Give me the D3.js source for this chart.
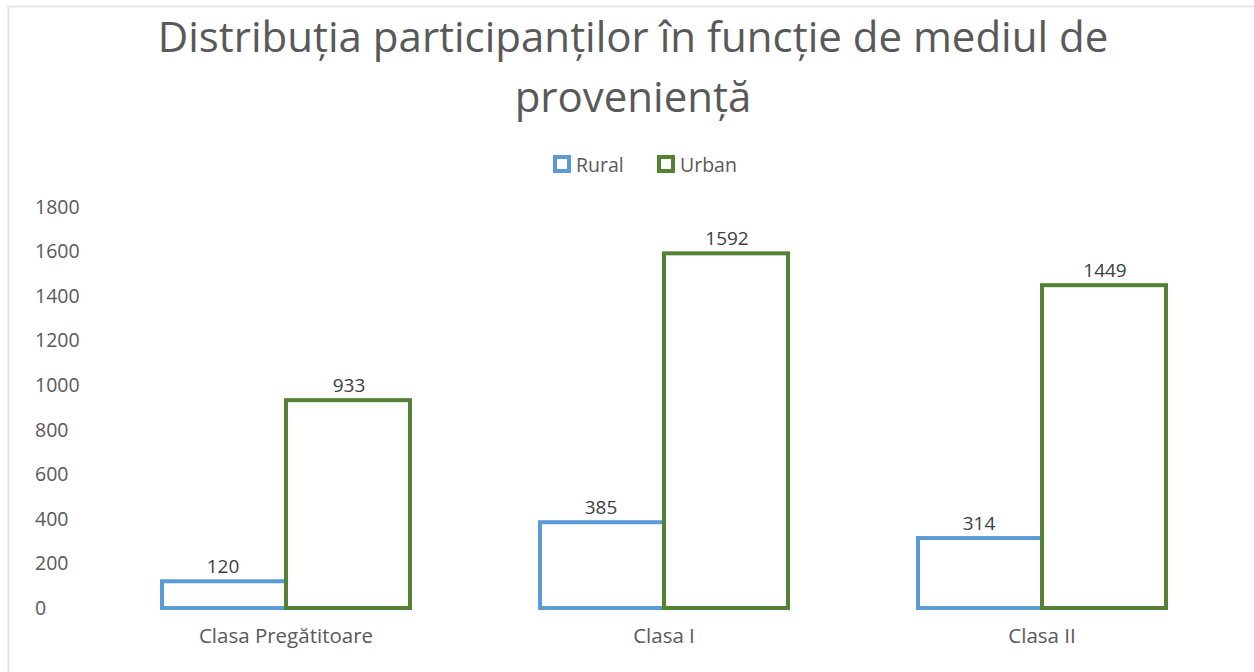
<!DOCTYPE html>
<html>
<head>
<meta charset="utf-8">
<script src="https://cdn.jsdelivr.net/npm/d3@7"></script>
<style>
  body { margin: 0; background: #fff; }
  text { font-family: "Open Sans", "Noto Sans", sans-serif; }
</style>
</head>
<body>
<svg width="1254" height="672"></svg>
<script>
const categories = ['Clasa Pregătitoare', 'Clasa I', 'Clasa II'];
const seriesNames = ['Rural', 'Urban'];
const rural = [120, 385, 314];
const urban = [933, 1592, 1449];
const yTicks = [0, 200, 400, 600, 800, 1000, 1200, 1400, 1600, 1800];
const titleLines = ['Distribuția participanților în funcție de mediul de', 'proveniență'];

const colors = {Rural: '#5b9bd5', Urban: '#548235'};

const svg = d3.select('svg');
const width = +svg.attr('width');
const height = +svg.attr('height');

// light frame like the Excel chart area
svg.append('path')
    .attr('d', `M8.5,${height} V6.5 H${width}`)
    .attr('fill', 'none')
    .attr('stroke', '#e4e4e4')
    .attr('stroke-width', 2);

const margin = {top: 207, left: 97, right: 23, bottom: 64};
const innerWidth = width - margin.left - margin.right;

const data = categories.map((c, i) => ({cat: c, Rural: rural[i], Urban: urban[i]}));

const xScale = d3.scaleBand()
    .domain(categories)
    .range([margin.left, margin.left + innerWidth])
    .paddingInner(1 / 3)
    .paddingOuter(1 / 6);

const xSub = d3.scaleBand()
    .domain(seriesNames)
    .range([0, xScale.bandwidth()]);

const yScale = d3.scaleLinear()
    .domain([0, 1800])
    .range([608, 207]);

// title
svg.append('g').selectAll('text').data(titleLines)
    .enter().append('text')
        .attr('x', 633)
        .attr('y', (d, i) => 52 + i * 60)
        .attr('text-anchor', 'middle')
        .attr('font-size', 42)
        .attr('fill', '#595959')
        .text(d => d);

// legend
const legend = svg.append('g');
const legendX = [553, 657];
seriesNames.forEach((s, i) => {
    legend.append('rect')
        .attr('x', legendX[i] + 2)
        .attr('y', 157)
        .attr('width', 14)
        .attr('height', 14)
        .attr('fill', 'none')
        .attr('stroke', colors[s])
        .attr('stroke-width', 4);
    legend.append('text')
        .attr('x', legendX[i] + 23)
        .attr('y', 172)
        .attr('font-size', 19.5)
        .attr('fill', '#595959')
        .text(s);
});

// y axis labels (left aligned, no lines)
const yAxis = d3.axisLeft(yScale)
    .tickValues(yTicks)
    .tickFormat(d3.format('d'))
    .tickSize(0)
    .tickPadding(0);
const yAxisG = svg.append('g')
    .attr('transform', 'translate(35,0)')
    .call(yAxis);
yAxisG.select('.domain').remove();
yAxisG.selectAll('text')
    .attr('text-anchor', 'start')
    .attr('font-size', 19.5)
    .attr('font-family', '"Open Sans", sans-serif')
    .attr('fill', '#595959');

// x axis labels
const xAxis = d3.axisBottom(xScale).tickSize(0).tickPadding(20);
const xAxisG = svg.append('g')
    .attr('transform', 'translate(0,608)')
    .call(xAxis);
xAxisG.select('.domain').remove();
xAxisG.selectAll('text')
    .attr('font-size', 20.5)
    .attr('font-family', '"Open Sans", sans-serif')
    .attr('fill', '#595959');

// bars
const groups = svg.append('g').selectAll('g').data(data)
    .enter().append('g')
        .attr('transform', d => `translate(${xScale(d.cat)},0)`);

const bars = groups.selectAll('g').data(d => seriesNames.map(s => ({s, v: d[s]})))
    .enter().append('g');

bars.append('rect')
    .attr('x', d => xSub(d.s) + (d.s === 'Rural' ? 2 : 0))
    .attr('y', d => yScale(d.v))
    .attr('width', d => xSub.bandwidth() - 2)
    .attr('height', d => yScale(0) - yScale(d.v))
    .attr('fill', 'none')
    .attr('stroke', d => colors[d.s])
    .attr('stroke-width', 4);

bars.append('text')
    .attr('x', d => xSub(d.s) + xSub.bandwidth() / 2)
    .attr('y', d => yScale(d.v) - 8)
    .attr('text-anchor', 'middle')
    .attr('font-size', 19)
    .attr('fill', '#404040')
    .text(d => d.v);

// urban drawn on top of shared edge
groups.selectAll('g').filter(d => d.s === 'Urban').raise();
</script>
</body>
</html>
